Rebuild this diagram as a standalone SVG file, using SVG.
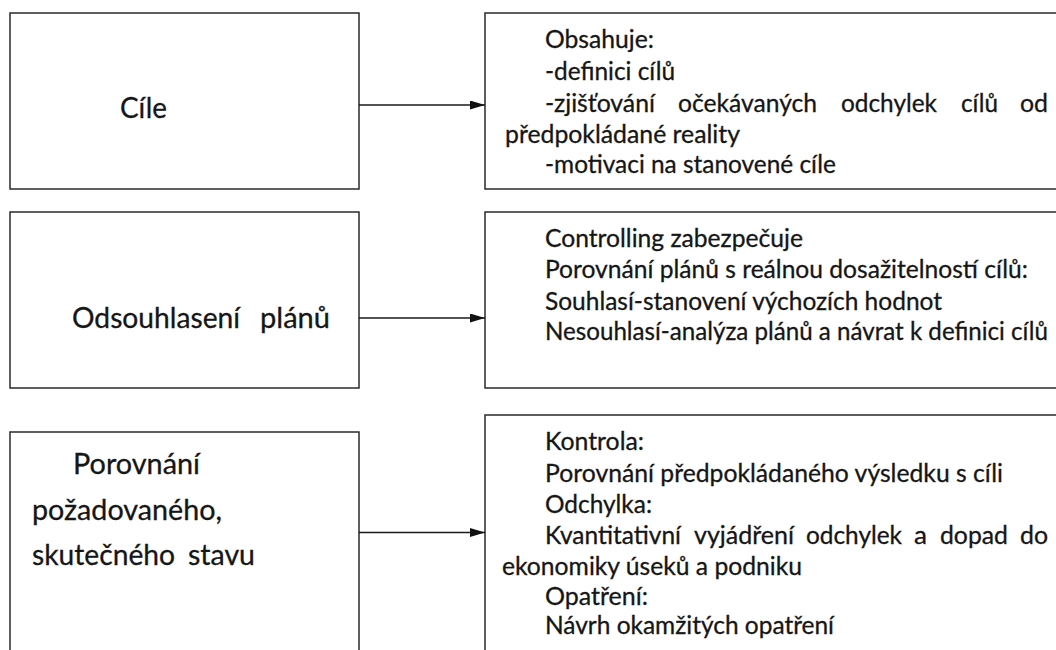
<svg xmlns="http://www.w3.org/2000/svg" width="1056" height="650" viewBox="0 0 1056 650">
  <style>
    .box { fill: #ffffff; stroke: #2a2a2a; stroke-width: 1.5; }
    .t { font-family: Lato, "Open Sans", "Liberation Sans", sans-serif; fill: #161616; stroke: #161616; stroke-width: 0.3; }
    .big { font-size: 28.5px; }
    .small { font-size: 24.5px; }
    .conn line { stroke: #1a1a1a; stroke-width: 1.5; }
  </style>
  <defs>
    <marker id="arrow" viewBox="0 0 15 9" refX="15" refY="4.5" markerWidth="15" markerHeight="9" markerUnits="userSpaceOnUse" orient="auto" preserveAspectRatio="none">
      <path d="M0,0 L15,4.5 L0,9 Z" fill="#111111"/>
    </marker>
  </defs>
  <rect width="1056" height="650" fill="#ffffff"/>

  <!-- Row 1: goals -->
  <g id="node-cile">
    <rect class="box" x="10" y="13" width="349" height="176"/>
    <text class="t big" x="120" y="118" textLength="47" lengthAdjust="spacingAndGlyphs">Cíle</text>
  </g>
  <g id="node-obsahuje">
    <rect class="box" x="485" y="13" width="620" height="176"/>
    <text class="t small" x="545" y="48" textLength="109" lengthAdjust="spacingAndGlyphs">Obsahuje:</text>
    <text class="t small" x="545" y="80" textLength="130" lengthAdjust="spacingAndGlyphs">-definici cílů</text>
    <text class="t small" y="111.5" lengthAdjust="spacingAndGlyphs">
      <tspan x="545" textLength="110" lengthAdjust="spacingAndGlyphs">-zjišťování</tspan><tspan x="678" textLength="139" lengthAdjust="spacingAndGlyphs">očekávaných</tspan><tspan x="841" textLength="96" lengthAdjust="spacingAndGlyphs">odchylek</tspan><tspan x="961" textLength="37" lengthAdjust="spacingAndGlyphs">cílů</tspan><tspan x="1020" textLength="28" lengthAdjust="spacingAndGlyphs">od</tspan>
    </text>
    <text class="t small" x="505" y="142.5" textLength="235" lengthAdjust="spacingAndGlyphs">předpokládané reality</text>
    <text class="t small" x="545" y="173" textLength="291" lengthAdjust="spacingAndGlyphs">-motivaci na stanovené cíle</text>
  </g>

  <!-- Row 2: plan agreement -->
  <g id="node-odsouhlaseni">
    <rect class="box" x="10" y="212" width="349" height="176"/>
    <text class="t big" y="328"><tspan x="72" textLength="168" lengthAdjust="spacingAndGlyphs">Odsouhlasení</tspan><tspan x="260" textLength="70" lengthAdjust="spacingAndGlyphs">plánů</tspan></text>
  </g>
  <g id="node-controlling">
    <rect class="box" x="485" y="212" width="620" height="176"/>
    <text class="t small" x="545" y="247" textLength="258" lengthAdjust="spacingAndGlyphs">Controlling zabezpečuje</text>
    <text class="t small" x="545" y="278" textLength="483" lengthAdjust="spacingAndGlyphs">Porovnání plánů s reálnou dosažitelností cílů:</text>
    <text class="t small" x="545" y="310" textLength="397" lengthAdjust="spacingAndGlyphs">Souhlasí-stanovení výchozích hodnot</text>
    <text class="t small" x="545" y="340" textLength="503" lengthAdjust="spacingAndGlyphs">Nesouhlasí-analýza plánů a návrat k definici cílů</text>
  </g>

  <!-- Row 3: target vs. actual comparison -->
  <g id="node-porovnani">
    <rect class="box" x="10" y="432" width="349" height="260"/>
    <text class="t big" x="73" y="474" textLength="127" lengthAdjust="spacingAndGlyphs">Porovnání</text>
    <text class="t big" x="32" y="520" textLength="190" lengthAdjust="spacingAndGlyphs">požadovaného,</text>
    <text class="t big" y="565"><tspan x="32" textLength="143" lengthAdjust="spacingAndGlyphs">skutečného</tspan><tspan x="188" textLength="67" lengthAdjust="spacingAndGlyphs">stavu</tspan></text>
  </g>
  <g id="node-kontrola">
    <rect class="box" x="485" y="415" width="620" height="260"/>
    <text class="t small" x="545" y="450" textLength="99" lengthAdjust="spacingAndGlyphs">Kontrola:</text>
    <text class="t small" x="545" y="481.5" textLength="458" lengthAdjust="spacingAndGlyphs">Porovnání předpokládaného výsledku s cíli</text>
    <text class="t small" x="545" y="513" textLength="107" lengthAdjust="spacingAndGlyphs">Odchylka:</text>
    <text class="t small" y="543.5">
      <tspan x="545" textLength="136" lengthAdjust="spacingAndGlyphs">Kvantitativní</tspan><tspan x="694" textLength="100" lengthAdjust="spacingAndGlyphs">vyjádření</tspan><tspan x="806" textLength="96" lengthAdjust="spacingAndGlyphs">odchylek</tspan><tspan x="914" textLength="13" lengthAdjust="spacingAndGlyphs">a</tspan><tspan x="940" textLength="68" lengthAdjust="spacingAndGlyphs">dopad</tspan><tspan x="1020" textLength="28" lengthAdjust="spacingAndGlyphs">do</tspan>
    </text>
    <text class="t small" x="502" y="575" textLength="300" lengthAdjust="spacingAndGlyphs">ekonomiky úseků a podniku</text>
    <text class="t small" x="545" y="605" textLength="103" lengthAdjust="spacingAndGlyphs">Opatření:</text>
    <text class="t small" x="545" y="634" textLength="289" lengthAdjust="spacingAndGlyphs">Návrh okamžitých opatření</text>
  </g>

  <!-- Connectors -->
  <g id="connectors" class="conn">
    <line x1="359" y1="105" x2="485" y2="105" marker-end="url(#arrow)"/>
    <line x1="359" y1="318" x2="485" y2="318" marker-end="url(#arrow)"/>
    <line x1="359" y1="532.5" x2="485" y2="532.5" marker-end="url(#arrow)"/>
  </g>
</svg>
